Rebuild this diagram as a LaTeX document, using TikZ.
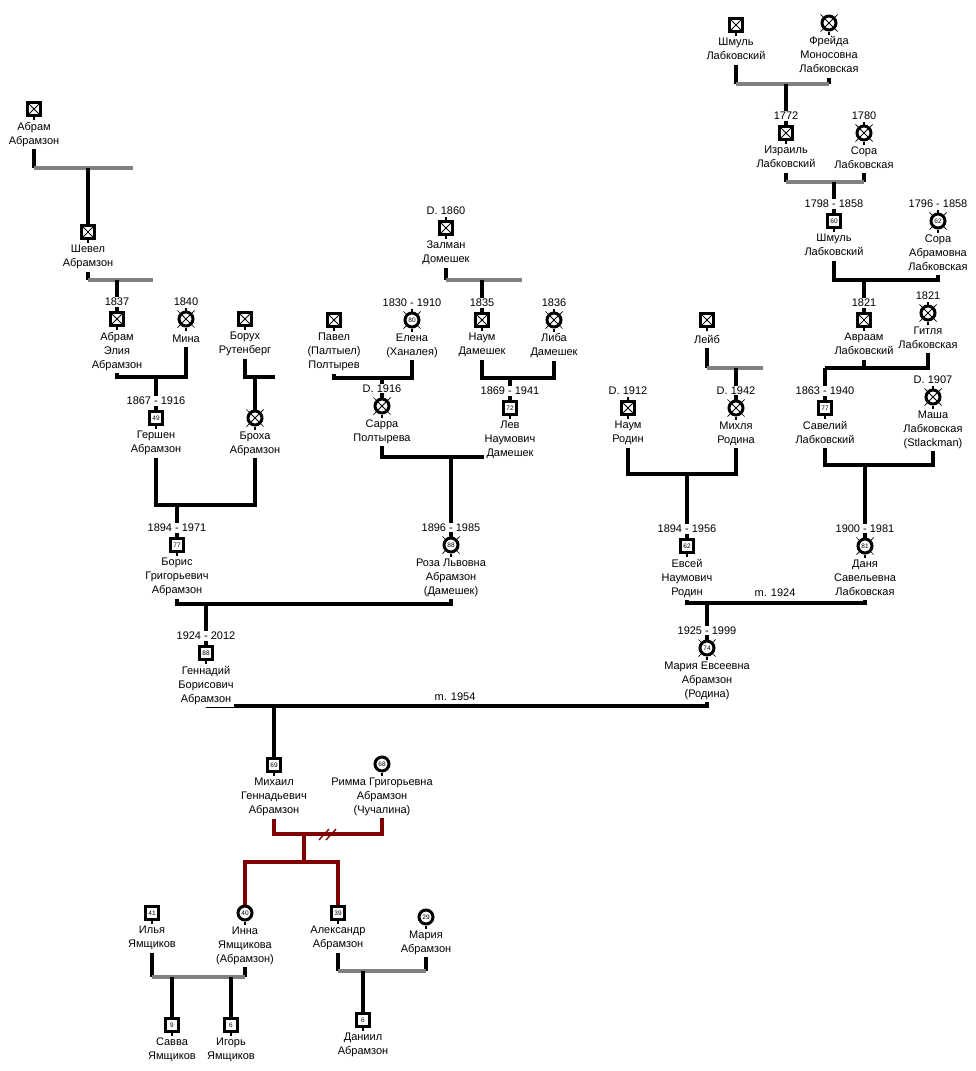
\documentclass[tikz,border=0pt]{standalone}
\usepackage{fontspec}
\setmainfont{Liberation Sans}
\usetikzlibrary{positioning,backgrounds}
\definecolor{lnkgray}{RGB}{128,128,128}
\definecolor{divred}{RGB}{128,0,0}
\newcommand\nmfont{\fontsize{11}{14}\selectfont}
\newcommand\agefont{\fontsize{6.5}{7}\selectfont}
\tikzset{
  stubline/.style={line width=2.2pt, draw=black},
  tickline/.style={line width=0.7pt, draw=black, shorten <=-1.5pt},
  botstub/.style={append after command={(\tikzlastnode.south) edge[stubline] ([yshift=-3pt]\tikzlastnode.south)}},
  topstub/.style={append after command={(\tikzlastnode.north) edge[stubline] ([yshift=3pt]\tikzlastnode.north)}},
  man/.style={draw, rectangle, line width=3pt, minimum size=13pt, inner sep=0pt, fill=white, font=\agefont, botstub},
  woman/.style={draw, circle, line width=3pt, minimum size=14pt, inner sep=0pt, fill=white, font=\agefont, botstub},
  gone/.style={path picture={\draw[line width=0.8pt] (path picture bounding box.north west) -- (path picture bounding box.south east) (path picture bounding box.north east) -- (path picture bounding box.south west);}},
  deadticks/.style={append after command={
    (\tikzlastnode.north east) edge[tickline] ([shift={(2.5pt,2.5pt)}]\tikzlastnode.north east)
    (\tikzlastnode.north west) edge[tickline] ([shift={(-2.5pt,2.5pt)}]\tikzlastnode.north west)
    (\tikzlastnode.south east) edge[tickline] ([shift={(2.5pt,-2.5pt)}]\tikzlastnode.south east)
    (\tikzlastnode.south west) edge[tickline] ([shift={(-2.5pt,-2.5pt)}]\tikzlastnode.south west)}},
  yr/.style={font=\nmfont, inner sep=1pt, fill=white},
  nm/.style={font=\nmfont, align=center, inner sep=0.5pt, fill=white, execute at begin node=\strut},
  rel/.style={line width=3.2pt, black},
  gl/.style={line width=3.2pt, lnkgray},
  dv/.style={line width=3.2pt, divred},
}
\begin{document}
\begin{tikzpicture}[x=1pt, y=-1pt]
\useasboundingbox (0,0) rectangle (975,1071);
\begin{scope}[on background layer]
\fill[white] (0,0) rectangle (975,1071);
\end{scope}

\node[man, gone] (ab0) at (34,109) {};
\node[nm, below=4.5pt of ab0] (ab0n) {Абрам\\Абрамзон};
\node[man, gone] (shevel) at (88,232) {};
\node[nm, below=4.5pt of shevel] (sheveln) {Шевел\\Абрамзон};
\node[man, gone, topstub] (abe) at (117,319) {};
\node[yr, above=4pt of abe] (abed) {1837};
\node[nm, below=4.5pt of abe] (aben) {Абрам\\Элия\\Абрамзон};
\node[woman, gone, deadticks, topstub] (mina) at (186,319) {};
\node[yr, above=4pt of mina] (minad) {1840};
\node[nm, below=4.5pt of mina] (minan) {Мина};
\node[man, gone] (borukh) at (245,319) {};
\node[nm, below=4.5pt of borukh] (borukhn) {Борух\\Рутенберг};
\node[man, topstub] (gershen) at (156,418) {49};
\node[yr, above=4pt of gershen] (gershend) {1867 - 1916};
\node[nm, below=4.5pt of gershen] (gershenn) {Гершен\\Абрамзон};
\node[woman, gone, deadticks] (brokha) at (255,418) {};
\node[nm, below=4.5pt of brokha] (brokhan) {Броха\\Абрамзон};
\node[man, topstub] (boris) at (177,545) {77};
\node[yr, above=4pt of boris] (borisd) {1894 - 1971};
\node[nm, below=4.5pt of boris] (borisn) {Борис\\Григорьевич\\Абрамзон};

\node[man, gone, topstub] (zalman) at (446,228) {};
\node[yr, above=4pt of zalman] (zalmand) {D. 1860};
\node[nm, below=4.5pt of zalman] (zalmann) {Залман\\Домешек};
\node[man, gone] (pavel) at (334,320) {};
\node[nm, below=4.5pt of pavel] (paveln) {Павел\\(Палтыел)\\Полтырев};
\node[woman, deadticks, topstub] (elena) at (412,320) {80};
\node[yr, above=4pt of elena] (elenad) {1830 - 1910};
\node[nm, below=4.5pt of elena] (elenan) {Елена\\(Ханалея)};
\node[man, gone, topstub] (naumd) at (482,320) {};
\node[yr, above=4pt of naumd] (naumdd) {1835};
\node[nm, below=4.5pt of naumd] (naumdn) {Наум\\Дамешек};
\node[woman, gone, deadticks, topstub] (liba) at (554,320) {};
\node[yr, above=4pt of liba] (libad) {1836};
\node[nm, below=4.5pt of liba] (liban) {Либа\\Дамешек};
\node[woman, gone, deadticks, topstub] (sarra) at (382,406) {};
\node[yr, above=4pt of sarra] (sarrad) {D. 1916};
\node[nm, below=4.5pt of sarra] (sarran) {Сарра\\Полтырева};
\node[man, topstub] (lev) at (510,408) {72};
\node[yr, above=4pt of lev] (levd) {1869 - 1941};
\node[nm, below=4.5pt of lev] (levn) {Лев\\Наумович\\Дамешек};
\node[woman, deadticks, topstub] (rosa) at (451,545) {88};
\node[yr, above=4pt of rosa] (rosad) {1896 - 1985};
\node[nm, below=4.5pt of rosa] (rosan) {Роза Львовна\\Абрамзон\\(Дамешек)};
\node[man, topstub] (gennady) at (206,653) {88};
\node[yr, above=4pt of gennady] (gennadyd) {1924 - 2012};
\node[nm, below=4.5pt of gennady] (gennadyn) {Геннадий\\Борисович\\Абрамзон};

\node[man, gone] (shmul1) at (736,25) {};
\node[nm, below=4.5pt of shmul1] (shmul1n) {Шмуль\\Лабковский};
\node[woman, gone, deadticks] (freida) at (829,23) {};
\node[nm, below=4.5pt of freida] (freidan) {Фрейда\\Моносовна\\Лабковская};
\node[man, gone, topstub] (israel) at (786,133) {};
\node[yr, above=4pt of israel] (israeld) {1772};
\node[nm, below=4.5pt of israel] (israeln) {Израиль\\Лабковский};
\node[woman, gone, deadticks, topstub] (sora1) at (864,133) {};
\node[yr, above=4pt of sora1] (sora1d) {1780};
\node[nm, below=4.5pt of sora1] (sora1n) {Сора\\Лабковская};
\node[man, topstub] (shmul2) at (834,221) {60};
\node[yr, above=4pt of shmul2] (shmul2d) {1798 - 1858};
\node[nm, below=4.5pt of shmul2] (shmul2n) {Шмуль\\Лабковский};
\node[woman, deadticks, topstub] (sora2) at (938,221) {62};
\node[yr, above=4pt of sora2] (sora2d) {1796 - 1858};
\node[nm, below=4.5pt of sora2] (sora2n) {Сора\\Абрамовна\\Лабковская};
\node[man, gone, topstub] (avraam) at (864,320) {};
\node[yr, above=4pt of avraam] (avraamd) {1821};
\node[nm, below=4.5pt of avraam] (avraamn) {Авраам\\Лабковский};
\node[woman, gone, deadticks, topstub] (gitlia) at (928,313) {};
\node[yr, above=4pt of gitlia] (gitliad) {1821};
\node[nm, below=4.5pt of gitlia] (gitlian) {Гитля\\Лабковская};
\node[man, gone] (leib) at (707,320) {};
\node[nm, below=4.5pt of leib] (leibn) {Лейб};
\node[man, gone, topstub] (naumr) at (628,408) {};
\node[yr, above=4pt of naumr] (naumrd) {D. 1912};
\node[nm, below=4.5pt of naumr] (naumrn) {Наум\\Родин};
\node[woman, gone, deadticks, topstub] (mikhla) at (736,408) {};
\node[yr, above=4pt of mikhla] (mikhlad) {D. 1942};
\node[nm, below=4.5pt of mikhla] (mikhlan) {Михля\\Родина};
\node[man, topstub] (savely) at (825,408) {77};
\node[yr, above=4pt of savely] (savelyd) {1863 - 1940};
\node[nm, below=4.5pt of savely] (savelyn) {Савелий\\Лабковский};
\node[woman, gone, deadticks, topstub] (masha) at (933,397) {};
\node[yr, above=4pt of masha] (mashad) {D. 1907};
\node[nm, below=4.5pt of masha] (mashan) {Маша\\Лабковская\\(Stlackman)};
\node[man, topstub] (evsei) at (687,546) {62};
\node[yr, above=4pt of evsei] (evseid) {1894 - 1956};
\node[nm, below=4.5pt of evsei] (evsein) {Евсей\\Наумович\\Родин};
\node[woman, deadticks, topstub] (dania) at (865,546) {81};
\node[yr, above=4pt of dania] (daniad) {1900 - 1981};
\node[nm, below=4.5pt of dania] (danian) {Даня\\Савельевна\\Лабковская};
\node[woman, deadticks, topstub] (maria) at (707,648) {74};
\node[yr, above=4pt of maria] (mariad) {1925 - 1999};
\node[nm, below=4.5pt of maria] (marian) {Мария Евсеевна\\Абрамзон\\(Родина)};

\node[man] (mikhail) at (274,765) {69};
\node[nm, below=4.5pt of mikhail] (mikhailn) {Михаил\\Геннадьевич\\Абрамзон};
\node[woman] (rimma) at (382,764) {68};
\node[nm, below=4.5pt of rimma] (rimman) {Римма Григорьевна\\Абрамзон\\(Чучалина)};
\node[man] (ilya) at (152,913) {41};
\node[nm, below=4.5pt of ilya] (ilyan) {Илья\\Ямщиков};
\node[woman] (inna) at (245,913) {40};
\node[nm, below=4.5pt of inna] (innan) {Инна\\Ямщикова\\(Абрамзон)};
\node[man] (alex) at (338,913) {39};
\node[nm, below=4.5pt of alex] (alexn) {Александр\\Абрамзон};
\node[woman] (mariaa) at (426,917) {29};
\node[nm, below=4.5pt of mariaa] (mariaan) {Мария\\Абрамзон};
\node[man] (savva) at (172,1025) {9};
\node[nm, below=4.5pt of savva] (savvan) {Савва\\Ямщиков};
\node[man] (igor) at (231,1025) {6};
\node[nm, below=4.5pt of igor] (igorn) {Игорь\\Ямщиков};
\node[man] (daniil) at (363,1020) {6};
\node[nm, below=4.5pt of daniil] (daniiln) {Даниил\\Абрамзон};

\node[font=\nmfont] (m24) at (775,593) {m. 1924};
\node[font=\nmfont] (m54) at (455,697) {m. 1954};

\coordinate (f1) at (88,168);   \coordinate (f1e) at (133,168);
\coordinate (f2) at (117,280);  \coordinate (f2e) at (153,280);
\coordinate (f3) at (156,377);
\coordinate (f4) at (255,377);  \coordinate (f4e) at (275,377);
\coordinate (f5) at (177,505);
\coordinate (f6) at (482,280);  \coordinate (f6e) at (522,280);
\coordinate (f7) at (382,378);
\coordinate (f8) at (510,378);
\coordinate (f9) at (451,457);
\coordinate (f10) at (206,604);
\coordinate (f11) at (786,84);
\coordinate (f12) at (834,182);
\coordinate (f13) at (864,280);
\coordinate (f14) at (825,368);
\coordinate (f15) at (736,368); \coordinate (f15e) at (763,368);
\coordinate (f16) at (687,474);
\coordinate (f17) at (865,465);
\coordinate (f18) at (707,603);
\coordinate (f19) at (274,706);
\coordinate (f20) at (304,834);  \coordinate (f20b) at (304,862);
\coordinate (dvm) at (328,834);
\coordinate (f21a) at (172,977); \coordinate (f21b) at (231,977);
\coordinate (f22) at (363,971);

\begin{scope}[on background layer]
\draw[rel] (ab0n.south) -- (ab0n.south |- f1);
\draw[gl] (ab0n.south |- f1) -- (f1e);
\draw[rel] (f1) -- (shevel.north);
\draw[rel] (sheveln.south) -- (sheveln.south |- f2);
\draw[gl] (sheveln.south |- f2) -- (f2e);
\draw[rel] (f2) -- (abe.north);
\draw[rel] (aben.south) |- (f3) -| (minan.south);
\draw[rel] (f3) -- (gershen.north);
\draw[rel] (borukhn.south) |- (f4) -- (f4e);
\draw[rel] (f4) -- (brokha.north);
\draw[rel] (gershenn.south) |- (f5) -| (brokhan.south);
\draw[rel] (f5) -- (boris.north);

\draw[rel] (zalmann.south) -- (zalmann.south |- f6);
\draw[gl] (zalmann.south |- f6) -- (f6e);
\draw[rel] (f6) -- (naumd.north);
\draw[rel] (paveln.south) |- (f7) -| (elenan.south);
\draw[rel] (f7) -- (sarra.north);
\draw[rel] (naumdn.south) |- (f8) -| (liban.south);
\draw[rel] (f8) -- (lev.north);
\draw[rel] (sarran.south) |- (f9) -- (levn.south |- f9);
\draw[rel] (f9) -- (rosa.north);
\draw[rel] (borisn.south) |- (f10) -| (rosan.south);
\draw[rel] (f10) -- (gennady.north);

\draw[rel] (shmul1n.south) -- (shmul1n.south |- f11);
\draw[rel] (freidan.south) -- (freidan.south |- f11);
\draw[gl] (shmul1n.south |- f11) -- (freidan.south |- f11);
\draw[rel] (f11) -- (israel.north);
\draw[rel] (israeln.south) -- (israeln.south |- f12);
\draw[rel] (sora1n.south) -- (sora1n.south |- f12);
\draw[gl] (israeln.south |- f12) -- (sora1n.south |- f12);
\draw[rel] (f12) -- (shmul2.north);
\draw[rel] (shmul2n.south) |- (f13) -| (sora2n.south);
\draw[rel] (f13) -- (avraam.north);
\draw[rel] (avraamn.south) -- (avraamn.south |- f14);
\draw[rel] (f14) -| (gitlian.south);
\draw[rel] (f14) -- (savely.north);
\draw[rel] (leibn.south) -- (leibn.south |- f15);
\draw[gl] (leibn.south |- f15) -- (f15e);
\draw[rel] (f15) -- (mikhla.north);
\draw[rel] (naumrn.south) |- (f16) -| (mikhlan.south);
\draw[rel] (f16) -- (evsei.north);
\draw[rel] (savelyn.south) |- (f17) -| (mashan.south);
\draw[rel] (f17) -- (dania.north);
\draw[rel] (evsein.south) |- (f18) -| (danian.south);
\draw[rel] (f18) -- (maria.north);
\draw[rel] (gennadyn.south) |- (f19) -| (marian.south);
\draw[rel] (f19) -- (mikhail.north);

\draw[dv] (mikhailn.south) |- (f20) -| (rimman.south);
\draw[dv] (f20) -- (f20b);
\draw[dv] (inna.north) |- (f20b) -| (alex.north);
\draw[rel] (ilyan.south) -- (ilyan.south |- f21a);
\draw[rel] (innan.south) -- (innan.south |- f21a);
\draw[gl] (ilyan.south |- f21a) -- (innan.south |- f21a);
\draw[rel] (f21a) -- (savva.north);
\draw[rel] (f21b) -- (igor.north);
\draw[rel] (alexn.south) -- (alexn.south |- f22);
\draw[rel] (mariaan.south) -- (mariaan.south |- f22);
\draw[gl] (alexn.south |- f22) -- (mariaan.south |- f22);
\draw[rel] (f22) -- (daniil.north);
\end{scope}
\draw[divred, line width=1.3pt] ([shift={(-9pt,-6pt)}]dvm) -- ([shift={(1pt,5pt)}]dvm);
\draw[divred, line width=1.3pt] ([shift={(-2pt,-6pt)}]dvm) -- ([shift={(8pt,5pt)}]dvm);
\end{tikzpicture}
\end{document}
